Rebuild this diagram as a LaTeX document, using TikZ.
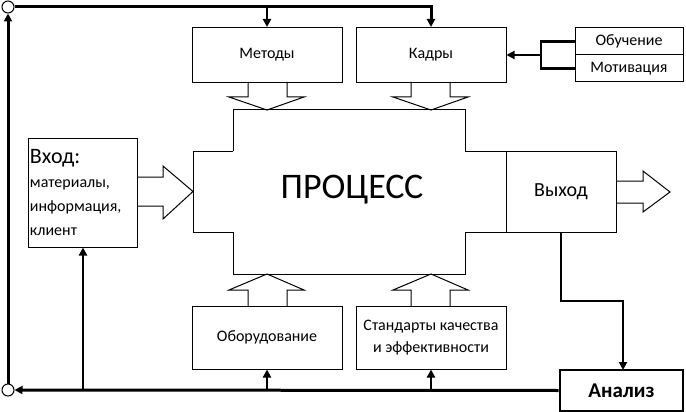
\documentclass[tikz,border=0pt]{standalone}
\usepackage{fontspec}
\setmainfont{Carlito}
\usetikzlibrary{arrows.meta,positioning,calc}

\begin{document}
\begin{tikzpicture}[
        x=1pt, y=-1pt,
        box/.style={draw, line width=1pt, inner sep=2pt, align=center, font=\fontsize{16}{22}\selectfont},
        bus/.style={line width=3pt},
        link/.style={line width=2.4pt, -{Triangle[length=8pt,width=8pt]}},
        hollow/.style={draw, line width=1pt, line join=miter},
        knot/.style={draw, circle, fill=white, line width=1pt, minimum size=12pt, inner sep=0pt}
    ]
        \useasboundingbox (0,0) rectangle (686,412);

        % Process (cross shaped)
        \draw[hollow] (233,151) -- (233,110) -- (465,110) -- (465,151) -- (506,151)
            (506,232) -- (465,232) -- (465,274) -- (233,274) -- (233,232)
            -- (193,232) -- (193,151) -- (233,151);
        \node[font=\fontsize{36}{40}\selectfont] (proc) at (352,190) {ПРОЦЕСС};

        % Resources on top
        \node[box, minimum width=150pt, minimum height=55pt] (met) at (267,55) {Методы};
        \node[box, minimum width=150pt, minimum height=55pt] (kad) at (431,55) {Кадры};

        % Resources below
        \node[box, minimum width=150pt, minimum height=63pt] (obo) at (267,337.5) {Оборудование};
        \node[box, minimum width=150pt, minimum height=63pt] (std) at (431,337.5) {Стандарты качества\\и эффективности};

        % Input and output
        \node[box, minimum width=109pt, minimum height=109pt, text width=105pt, align=left,
              font=\fontsize{16}{24}\selectfont] (vhod) at (82.5,192.5)
            {{\fontsize{22}{24}\selectfont Вход:}\\ материалы,\\ информация,\\ клиент};
        \node[box, minimum width=110pt, minimum height=81pt, font=\fontsize{20}{24}\selectfont] (vyh) at (561,191.5) {Выход};

        % Analysis
        \node[box, line width=2.6pt, minimum width=123pt, minimum height=41pt,
              font=\fontsize{21}{24}\selectfont\bfseries] (anal) at (621.5,390.5) {Анализ};

        % Training / motivation
        \node[box, minimum width=108pt, minimum height=27pt] (obu) at (629,41.5) {Обучение};
        \node[box, minimum width=108pt, minimum height=27pt] (mot) at (629,68.5) {Мотивация};

        % Block arrows
        \draw[hollow] (248,82) -- (248,97) -- (229,97) -- (267,110) -- (304,97) -- (287,97) -- (287,82);
        \draw[hollow] (411,82) -- (411,97) -- (393,97) -- (431,110) -- (468,97) -- (450,97) -- (450,82);
        \draw[hollow] (248,306) -- (248,290) -- (229,290) -- (267,274) -- (304,290) -- (287,290) -- (287,306);
        \draw[hollow] (411,306) -- (411,290) -- (393,290) -- (431,274) -- (468,290) -- (450,290) -- (450,306);
        \draw[hollow] (137,177) -- (163,177) -- (163,166) -- (193,191.5) -- (163,219) -- (163,206) -- (137,206);
        \draw[hollow] (616,181) -- (643,181) -- (643,171) -- (670,192) -- (643,212) -- (643,203) -- (616,203);

        % Feedback loop
        \node[knot] (ktop) at (8,7) {};
        \node[knot] (kbot) at (8,390) {};
        \coordinate (bvhod) at (83,390);
        \coordinate (bobo) at (267,390);
        \coordinate (bstd) at (431,390);
        \coordinate (tmet) at (267,7);
        \draw[bus, -{Triangle[length=8pt,width=8pt]}] (anal.west) -- (kbot);
        \draw[bus, -{Triangle[length=8pt,width=8pt]}] (kbot) -- (ktop);
        \draw[bus, -{Triangle[length=8pt,width=8pt]}] (ktop) -- (431,7) -- (kad.north);
        \draw[link] (tmet) -- (met.north);
        \draw[link] (bobo) -- (obo.south);
        \draw[link] (bstd) -- (std.south);
        \draw[line width=2pt, -{Triangle[length=8pt,width=8pt]}] (bvhod) -- (bvhod |- vhod.south);
        \draw[link] (vyh.south) -- (561,301) -- (623,301) -- (623,370);

        % Training bracket
        \draw[line width=2.4pt] (obu.west) -- (541,41.5) -- (541,68.5) -- (mot.west);
        \draw[link] (541,55) -- (kad.east);
    \end{tikzpicture}
\end{document}
